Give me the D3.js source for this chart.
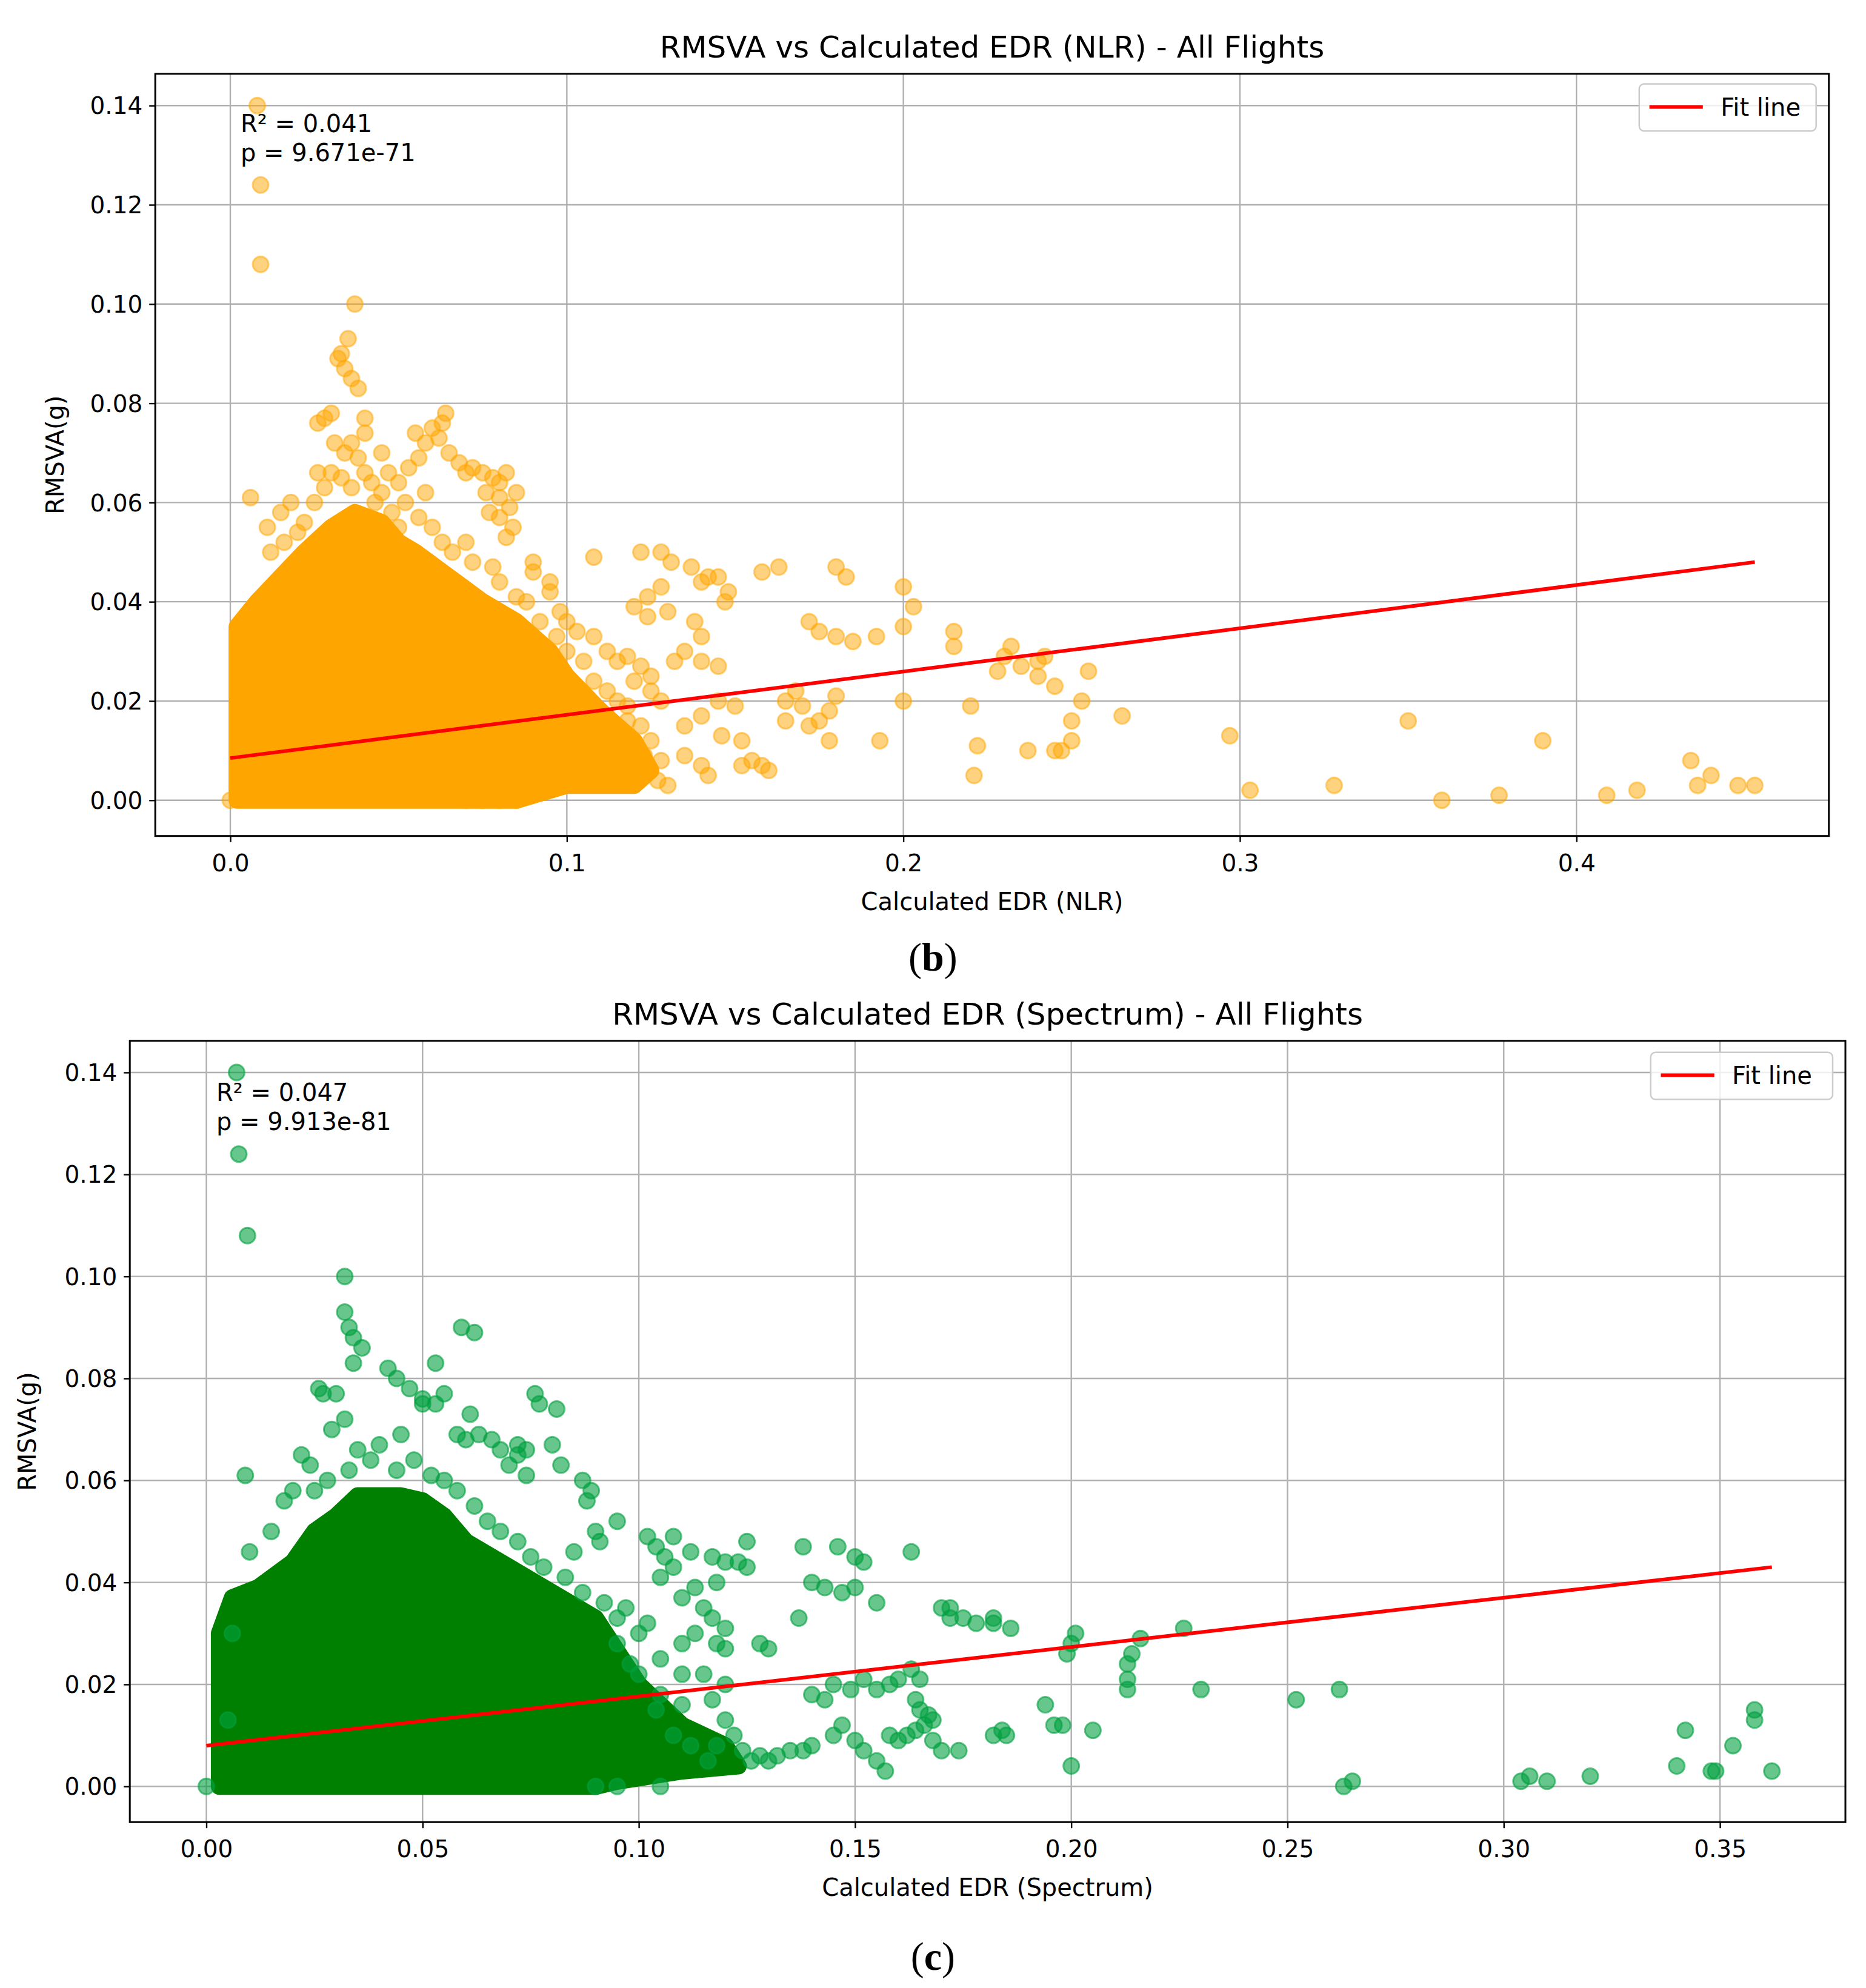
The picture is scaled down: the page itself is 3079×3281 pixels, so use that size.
<!DOCTYPE html>
<html><head><meta charset="utf-8">
<script src="https://cdn.jsdelivr.net/npm/d3@7"></script>
<style>body{margin:0;background:#fff}</style></head>
<body><svg id="c" width="3079" height="3281"></svg>
<script>
// ---------- DATA ----------
const nlrTicksX = [0.0,0.1,0.2,0.3,0.4];
const specTicksX = [0.00,0.05,0.10,0.15,0.20,0.25,0.30,0.35];
const ticksY = [0.00,0.02,0.04,0.06,0.08,0.10,0.12,0.14];

const nlrFit = [[0,0.0085],[0.453,0.048]];
const specFit = [[0,0.008],[0.362,0.043]];

// outline of the densely overplotted region (saturated marks)
const nlrDense = [[0.002,0.0],[0.002,0.035],[0.008,0.04],[0.015,0.045],[0.022,0.05],[0.03,0.055],[0.037,0.058],[0.045,0.056],[0.05,0.052],[0.055,0.05],[0.065,0.045],[0.075,0.04],[0.085,0.036],[0.095,0.03],[0.1,0.025],[0.11,0.018],[0.12,0.012],[0.125,0.006],[0.12,0.003],[0.1,0.003],[0.09,0.001],[0.085,0.0]];
const specDense = [[0.003,0.0],[0.003,0.03],[0.006,0.037],[0.012,0.039],[0.02,0.044],[0.025,0.05],[0.03,0.053],[0.035,0.057],[0.045,0.057],[0.05,0.056],[0.055,0.053],[0.06,0.048],[0.07,0.043],[0.08,0.038],[0.09,0.033],[0.1,0.02],[0.11,0.012],[0.12,0.008],[0.123,0.004],[0.11,0.003],[0.095,0.001],[0.09,0.0]];

const nlrPoints = [[0.008,0.140],[0.009,0.124],[0.009,0.108],[0.037,0.100],[0.035,0.093],[0.033,0.090],[0.032,0.089],[0.034,0.087],[0.036,0.085],[0.038,0.083],[0.03,0.078],[0.028,0.077],[0.026,0.076],[0.04,0.077],[0.04,0.074],[0.036,0.072],[0.034,0.070],[0.038,0.069],[0.055,0.074],[0.06,0.075],[0.058,0.072],[0.056,0.069],[0.064,0.078],[0.063,0.076],[0.062,0.073],[0.065,0.070],[0.068,0.068],[0.07,0.066],[0.072,0.067],[0.075,0.066],[0.078,0.065],[0.08,0.064],[0.082,0.066],[0.08,0.061],[0.076,0.062],[0.077,0.058],[0.083,0.059],[0.085,0.062],[0.084,0.055],[0.08,0.057],[0.082,0.053],[0.006,0.061],[0.011,0.055],[0.015,0.058],[0.018,0.06],[0.02,0.054],[0.05,0.064],[0.053,0.067],[0.047,0.066],[0.045,0.062],[0.09,0.048],[0.095,0.044],[0.095,0.042],[0.09,0.046],[0.098,0.038],[0.1,0.036],[0.103,0.034],[0.108,0.033],[0.108,0.049],[0.122,0.050],[0.128,0.050],[0.131,0.048],[0.128,0.043],[0.124,0.041],[0.12,0.039],[0.124,0.037],[0.13,0.038],[0.137,0.047],[0.14,0.044],[0.142,0.045],[0.145,0.045],[0.148,0.042],[0.147,0.040],[0.138,0.036],[0.14,0.033],[0.135,0.030],[0.132,0.028],[0.14,0.028],[0.145,0.027],[0.115,0.028],[0.112,0.03],[0.118,0.029],[0.122,0.027],[0.125,0.025],[0.12,0.024],[0.125,0.022],[0.128,0.02],[0.115,0.02],[0.11,0.018],[0.105,0.016],[0.118,0.016],[0.125,0.012],[0.128,0.008],[0.127,0.004],[0.13,0.003],[0.135,0.009],[0.14,0.007],[0.142,0.005],[0.146,0.013],[0.152,0.012],[0.155,0.008],[0.158,0.007],[0.16,0.006],[0.152,0.007],[0.135,0.015],[0.14,0.017],[0.145,0.02],[0.15,0.019],[0.158,0.046],[0.163,0.047],[0.168,0.022],[0.165,0.02],[0.17,0.019],[0.175,0.016],[0.172,0.015],[0.165,0.016],[0.178,0.018],[0.18,0.021],[0.178,0.012],[0.18,0.047],[0.183,0.045],[0.172,0.036],[0.175,0.034],[0.18,0.033],[0.185,0.032],[0.192,0.033],[0.193,0.012],[0.2,0.020],[0.2,0.043],[0.2,0.035],[0.203,0.039],[0.215,0.034],[0.215,0.031],[0.22,0.019],[0.222,0.011],[0.221,0.005],[0.228,0.026],[0.23,0.029],[0.232,0.031],[0.235,0.027],[0.24,0.028],[0.242,0.029],[0.24,0.025],[0.245,0.023],[0.237,0.010],[0.245,0.010],[0.247,0.010],[0.25,0.016],[0.25,0.012],[0.253,0.020],[0.255,0.026],[0.265,0.017],[0.297,0.013],[0.303,0.002],[0.328,0.003],[0.35,0.016],[0.36,0.000],[0.377,0.001],[0.39,0.012],[0.409,0.001],[0.418,0.002],[0.434,0.008],[0.436,0.003],[0.44,0.005],[0.448,0.003],[0.453,0.003],[0.07,0.000],[0.075,0.000],[0.08,0.000],[0.085,0.000],[0.0,0.000],
 [0.012,0.05],[0.016,0.052],[0.022,0.056],[0.025,0.06],[0.028,0.063],[0.03,0.066],[0.033,0.065],[0.036,0.063],[0.04,0.066],[0.043,0.06],[0.042,0.064],[0.048,0.058],[0.052,0.06],[0.056,0.057],[0.06,0.055],[0.063,0.052],[0.066,0.05],[0.07,0.052],[0.072,0.048],[0.078,0.047],[0.08,0.044],[0.085,0.041],[0.088,0.04],[0.092,0.036],[0.097,0.033],[0.1,0.03],[0.105,0.028],[0.108,0.024],[0.112,0.022],[0.118,0.019],[0.122,0.015],[0.1,0.006],[0.107,0.005],[0.115,0.006],[0.123,0.009],[0.05,0.055],[0.058,0.062],[0.026,0.066],[0.031,0.072],[0.045,0.07]];

const specPoints = [[0.007,0.140],[0.0075,0.124],[0.0095,0.108],[0.032,0.100],[0.032,0.093],[0.033,0.090],[0.034,0.088],[0.036,0.086],[0.034,0.083],[0.026,0.078],[0.027,0.077],[0.03,0.077],[0.032,0.072],[0.029,0.070],[0.022,0.065],[0.024,0.063],[0.009,0.061],[0.044,0.080],[0.042,0.082],[0.047,0.078],[0.05,0.076],[0.05,0.075],[0.053,0.083],[0.055,0.077],[0.053,0.075],[0.059,0.090],[0.062,0.089],[0.061,0.073],[0.058,0.069],[0.06,0.068],[0.063,0.069],[0.066,0.068],[0.068,0.066],[0.072,0.067],[0.074,0.066],[0.076,0.077],[0.077,0.075],[0.081,0.074],[0.08,0.067],[0.072,0.065],[0.07,0.063],[0.074,0.061],[0.082,0.063],[0.087,0.060],[0.089,0.058],[0.088,0.056],[0.095,0.052],[0.09,0.050],[0.091,0.048],[0.085,0.046],[0.102,0.049],[0.108,0.049],[0.104,0.047],[0.106,0.045],[0.108,0.043],[0.105,0.041],[0.112,0.046],[0.117,0.045],[0.12,0.044],[0.125,0.048],[0.123,0.044],[0.125,0.043],[0.118,0.040],[0.113,0.039],[0.11,0.037],[0.115,0.035],[0.117,0.033],[0.12,0.031],[0.113,0.030],[0.11,0.028],[0.118,0.028],[0.12,0.027],[0.128,0.028],[0.13,0.027],[0.1,0.030],[0.102,0.032],[0.097,0.035],[0.095,0.033],[0.105,0.025],[0.11,0.022],[0.115,0.022],[0.12,0.020],[0.117,0.017],[0.11,0.016],[0.105,0.018],[0.12,0.013],[0.122,0.010],[0.118,0.008],[0.124,0.007],[0.126,0.005],[0.128,0.006],[0.13,0.005],[0.132,0.006],[0.135,0.007],[0.138,0.007],[0.14,0.008],[0.138,0.047],[0.146,0.047],[0.15,0.045],[0.152,0.044],[0.14,0.040],[0.143,0.039],[0.147,0.038],[0.15,0.039],[0.155,0.036],[0.137,0.033],[0.14,0.018],[0.143,0.017],[0.145,0.020],[0.149,0.019],[0.152,0.021],[0.155,0.019],[0.158,0.020],[0.16,0.021],[0.163,0.023],[0.165,0.021],[0.163,0.046],[0.147,0.012],[0.145,0.010],[0.15,0.009],[0.152,0.007],[0.155,0.005],[0.157,0.003],[0.158,0.010],[0.16,0.009],[0.162,0.010],[0.164,0.011],[0.165,0.015],[0.167,0.014],[0.166,0.012],[0.168,0.013],[0.164,0.017],[0.168,0.009],[0.17,0.035],[0.172,0.035],[0.172,0.033],[0.175,0.033],[0.178,0.032],[0.182,0.033],[0.182,0.032],[0.186,0.031],[0.17,0.007],[0.174,0.007],[0.182,0.010],[0.184,0.011],[0.185,0.010],[0.194,0.016],[0.196,0.012],[0.198,0.012],[0.199,0.026],[0.2,0.028],[0.201,0.030],[0.2,0.004],[0.205,0.011],[0.213,0.019],[0.213,0.021],[0.213,0.024],[0.214,0.026],[0.216,0.029],[0.226,0.031],[0.23,0.019],[0.252,0.017],[0.262,0.019],[0.263,0.000],[0.265,0.001],[0.304,0.001],[0.306,0.002],[0.31,0.001],[0.32,0.002],[0.34,0.004],[0.342,0.011],[0.348,0.003],[0.349,0.003],[0.353,0.008],[0.358,0.015],[0.358,0.013],[0.362,0.003],[0.0,0.000],[0.095,0.000],[0.09,0.000],[0.105,0.000],
 [0.01,0.046],[0.015,0.05],[0.018,0.056],[0.02,0.058],[0.025,0.058],[0.028,0.06],[0.033,0.062],[0.038,0.064],[0.04,0.067],[0.044,0.062],[0.048,0.064],[0.052,0.061],[0.055,0.06],[0.058,0.058],[0.062,0.055],[0.065,0.052],[0.068,0.05],[0.072,0.048],[0.075,0.045],[0.078,0.043],[0.083,0.041],[0.087,0.038],[0.092,0.036],[0.095,0.028],[0.098,0.024],[0.1,0.022],[0.104,0.015],[0.108,0.01],[0.112,0.008],[0.116,0.005],[0.005,0.013],[0.006,0.03],[0.045,0.069],[0.035,0.066]];

// ---------- DRAW ----------
const S = 2.1;
const svg = d3.select("#c");
const FONT = "DejaVu Sans";

function panel(o){
  const x = d3.scaleLinear().domain(o.xd).range([o.box[0]*S, o.box[1]*S]);
  const y = d3.scaleLinear().domain(o.yd).range([o.box[3]*S, o.box[2]*S]);
  const g = svg.append("g");
  const L=x.range()[0],R=x.range()[1],T=y.range()[1],B=y.range()[0];
  g.selectAll(".gx").data(o.xt).join("line").attr("x1",d=>x(d)).attr("x2",d=>x(d)).attr("y1",T).attr("y2",B).attr("stroke","#b0b0b0").attr("stroke-width",2.4);
  g.selectAll(".gy").data(ticksY).join("line").attr("y1",d=>y(d)).attr("y2",d=>y(d)).attr("x1",L).attr("x2",R).attr("stroke","#b0b0b0").attr("stroke-width",2.4);
  const clip = "clip"+o.id;
  svg.append("clipPath").attr("id",clip).append("rect").attr("x",L).attr("y",T).attr("width",R-L).attr("height",B-T);
  const pg = g.append("g").attr("clip-path",`url(#${clip})`);
  pg.append("path").datum(o.dense).attr("d",d3.line().x(d=>x(d[0])).y(d=>y(d[1])).curve(d3.curveLinearClosed))
    .attr("fill",o.solid).attr("stroke",o.solid).attr("stroke-width",28).attr("stroke-linejoin","round");
  pg.selectAll("circle").data(o.pts).join("circle").attr("cx",d=>x(d[0])).attr("cy",d=>y(d[1])).attr("r",13)
    .attr("fill",o.col).attr("fill-opacity",o.op).attr("stroke",o.col).attr("stroke-opacity",o.op).attr("stroke-width",3);
  pg.append("line").attr("x1",x(o.fit[0][0])).attr("y1",y(o.fit[0][1])).attr("x2",x(o.fit[1][0])).attr("y2",y(o.fit[1][1])).attr("stroke","#ff0000").attr("stroke-width",6);
  const ax = g.append("g").attr("transform",`translate(0,${B})`).call(d3.axisBottom(x).tickValues(o.xt).tickFormat(o.xf).tickSize(10).tickSizeOuter(0));
  const ay = g.append("g").attr("transform",`translate(${L},0)`).call(d3.axisLeft(y).tickValues(ticksY).tickFormat(d3.format(".2f")).tickSize(10).tickSizeOuter(0));
  [ax,ay].forEach(a=>{a.select(".domain").remove();a.selectAll("line").attr("stroke","#000").attr("stroke-width",2.4);a.selectAll("text").attr("font-family",FONT).attr("font-size",39).attr("fill","#000");});
  ax.selectAll("text").attr("dy","1.15em");
  ay.selectAll("text").attr("dx","-0.2em").attr("dy","0.35em");
  g.append("rect").attr("x",L).attr("y",T).attr("width",R-L).attr("height",B-T).attr("fill","none").attr("stroke","#000").attr("stroke-width",3);
  g.append("text").attr("x",(L+R)/2).attr("y",o.titleY*S).attr("text-anchor","middle").attr("font-family",FONT).attr("font-size",50).text(o.title);
  g.append("text").attr("x",(L+R)/2).attr("y",o.xlabY*S).attr("text-anchor","middle").attr("font-family",FONT).attr("font-size",40).text(o.xlab);
  g.append("text").attr("transform",`translate(${o.ylabX*S},${(T+B)/2}) rotate(-90)`).attr("text-anchor","middle").attr("font-family",FONT).attr("font-size",40).text("RMSVA(g)");
  const ann = g.append("text").attr("font-family",FONT).attr("font-size",40).attr("x",o.annX*S);
  ann.append("tspan").attr("x",o.annX*S).attr("y",o.annY*S).text(o.r2);
  ann.append("tspan").attr("x",o.annX*S).attr("dy",48).text(o.p);
  const lg = g.append("g");
  lg.append("rect").attr("x",o.leg[0]*S).attr("y",o.leg[1]*S).attr("width",o.leg[2]*S).attr("height",37*S).attr("rx",8).attr("fill","#fff").attr("fill-opacity",0.8).attr("stroke","#cccccc").attr("stroke-width",2.5);
  lg.append("line").attr("x1",(o.leg[0]+8)*S).attr("x2",(o.leg[0]+50)*S).attr("y1",(o.leg[1]+18)*S).attr("y2",(o.leg[1]+18)*S).attr("stroke","#ff0000").attr("stroke-width",6);
  lg.append("text").attr("x",(o.leg[0]+64)*S).attr("y",(o.leg[1]+18)*S).attr("dy","0.36em").attr("font-family",FONT).attr("font-size",40).text("Fit line");
  const cap = svg.append("text").attr("x",733*S).attr("y",o.capY*S).attr("text-anchor","middle").attr("font-family","Liberation Serif").attr("font-size",66);
  cap.append("tspan").text("(");
  cap.append("tspan").attr("font-weight","bold").text(o.cap);
  cap.append("tspan").text(")");
}

panel({id:"b",box:[122,1437,58,657],xd:[-0.0223,0.475],yd:[-0.0072,0.1464],xt:nlrTicksX,xf:d3.format(".1f"),
  dense:nlrDense,pts:nlrPoints,fit:nlrFit,col:"#ffa500",solid:"#ffa500",op:0.5,
  title:"RMSVA vs Calculated EDR (NLR) - All Flights",titleY:45,xlab:"Calculated EDR (NLR)",xlabY:715,ylabX:50,
  annX:189,annY:104,r2:"R² = 0.041",p:"p = 9.671e-71",leg:[1288,66,139],capY:763,cap:"b"});
panel({id:"c",box:[102,1450,818,1432],xd:[-0.0177,0.379],yd:[-0.007,0.1462],xt:specTicksX,xf:d3.format(".2f"),
  dense:specDense,pts:specPoints,fit:specFit,col:"#00a040",solid:"#008000",op:0.6,
  title:"RMSVA vs Calculated EDR (Spectrum) - All Flights",titleY:805,xlab:"Calculated EDR (Spectrum)",xlabY:1490,ylabX:28,
  annX:170,annY:865,r2:"R² = 0.047",p:"p = 9.913e-81",leg:[1297,827,143],capY:1548,cap:"c"});
</script></body></html>
